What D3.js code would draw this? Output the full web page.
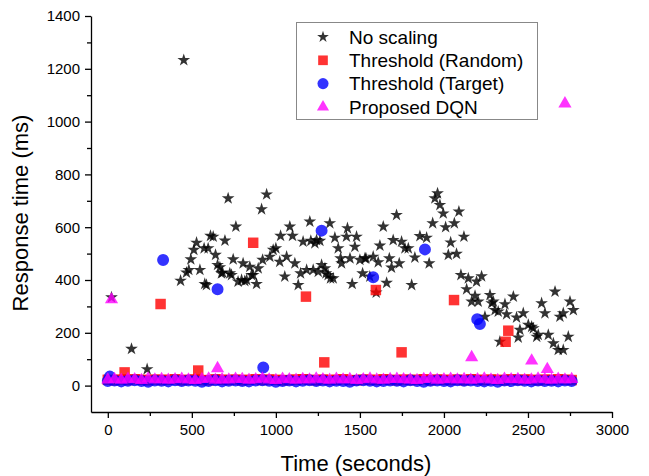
<!DOCTYPE html>
<html>
<head>
<meta charset="utf-8">
<script src="https://cdn.jsdelivr.net/npm/d3@7"></script>
<style>
  body { margin: 0; background: #fff; }
  text { font-family: "Liberation Sans", Arial, sans-serif; }
</style>
</head>
<body>
<svg id="chart" width="649" height="476"></svg>
<script>
// Series names (legend order)
var seriesNames = ["No scaling", "Threshold (Random)", "Threshold (Target)", "Proposed DQN"];

// No scaling: [time, response time]
var noScaling = [
  [22,334],[141,139],[234,62],[433,397],[452,1233],[468,428],[482,438],[494,478],[512,514],[528,541],
  [548,438],[573,520],[577,385],[587,381],[597,520],[611,567],[627,564],[641,495],[653,457],[667,448],
  [676,425],[683,428],[697,549],[716,709],[726,425],[736,419],[746,478],[762,602],[775,394],[796,400],
  [805,463],[815,396],[826,400],[845,450],[855,419],[865,419],[885,385],[895,444],[915,668],[921,476],
  [945,724],[964,488],[984,514],[1000,520],[1023,469],[1028,567],[1053,413],[1064,488],[1083,602],[1099,567],
  [1113,463],[1133,381],[1147,425],[1162,545],[1183,438],[1202,621],[1208,548],[1222,438],[1232,539],[1242,551],
  [1252,431],[1262,548],[1272,457],[1292,444],[1298,425],[1311,419],[1321,615],[1325,406],[1341,406],[1351,560],
  [1371,520],[1385,482],[1391,463],[1420,564],[1426,596],[1441,482],[1454,385],[1470,526],[1480,564],[1500,476],
  [1516,425],[1530,482],[1536,482],[1559,413],[1579,488],[1597,352],[1609,467],[1619,530],[1639,602],[1659,389],
  [1675,482],[1688,447],[1698,551],[1718,646],[1734,463],[1748,545],[1768,520],[1788,520],[1808,381],[1827,485],
  [1857,566],[1897,560],[1912,463],[1933,615],[1946,709],[1962,728],[1976,684],[1996,652],[2010,600],[2026,495],
  [2040,542],[2062,615],[2075,499],[2089,659],[2101,419],[2119,564],[2135,365],[2145,406],[2165,318],[2185,340],
  [2194,394],[2204,318],[2224,414],[2244,261],[2274,343],[2284,312],[2294,318],[2304,286],[2323,280],[2333,166],
  [2363,308],[2373,270],[2413,337],[2432,258],[2442,182],[2452,211],[2472,274],[2502,230],[2522,223],[2532,217],
  [2552,185],[2561,192],[2581,312],[2601,274],[2621,192],[2651,160],[2661,356],[2680,135],[2690,261],[2710,274],
  [2710,135],[2740,185],[2750,318],[2770,286]
];

// Threshold (Random) outliers above the baseline band
var randomHigh = [
  [100,50],[314,309],[538,57],[865,541],[1179,337],[1288,88],[1595,362],[1748,126],[2060,324],[2367,166],[2383,208]
];
// Threshold (Target) outliers
var targetHigh = [
  [12,34],[329,476],[653,365],[925,69],[1272,587],[1579,410],[1887,516],[2198,251],[2214,233]
];
// Proposed DQN outliers
var dqnHigh = [
  [22,326],[653,65],[2165,107],[2522,94],[2615,62],[2720,1068]
];

// Baseline band sample times (s)
var baseTimes = [0,40,80,120,160,200,240,280,320,360,400,440,480,520,560,600,640,680,720,760,
  800,840,880,920,960,1000,1040,1080,1120,1160,1200,1240,1280,1320,1360,1400,1440,1480,1520,1560,
  1600,1640,1680,1720,1760,1800,1840,1880,1920,1960,2000,2040,2080,2120,2160,2200,2240,2280,2320,2360,
  2400,2440,2480,2520,2560,2600,2640,2680,2720,2760];
var randomBase = [22,20,23,21,24,22,20,23,21,22,24,20,22,23,21,20,24,22,21,23,
  20,22,24,21,23,22,20,21,23,24,22,20,23,21,22,24,21,20,23,22,
  21,24,22,20,23,21,22,24,20,23,22,21,23,20,24,22,21,23,22,20,
  24,21,23,22,20,23,21,24,22,21];
var targetBase = [17,19,16,18,20,17,15,19,18,16,20,17,19,18,15,17,20,16,18,19,
  17,16,19,20,18,15,17,19,16,18,20,17,19,16,18,17,15,19,20,18,
  16,17,19,18,16,20,17,15,18,19,17,16,20,18,19,17,16,18,15,19,
  17,20,18,16,19,17,18,16,19,17];
var dqnBase = [22,24,21,25,23,20,26,22,24,21,23,25,22,20,24,26,21,23,22,25,
  24,21,23,26,22,20,25,23,21,24,22,26,23,21,25,22,24,20,23,26,
  22,21,24,25,23,22,20,24,26,21,23,25,22,24,21,23,26,22,20,25,
  23,24,21,22,26,23,21,25,22,24];

// Axis ticks
var xTicks = [0,500,1000,1500,2000,2500,3000];
var xMinor = [250,750,1250,1750,2250,2750];
var yTicks = [0,200,400,600,800,1000,1200,1400];
var yMinor = [100,300,500,700,900,1100,1300];

var svg = d3.select("#chart");
var x = d3.scaleLinear().domain([-100, 3000]).range([91, 612]);
var y = d3.scaleLinear().domain([-100, 1400]).range([412, 16]);

//Join times and values of the band
function band(vals){
  return baseTimes.map(function(t, i){ return [t, vals[i]]; });
}

//Symbol per series
var styles = [
  {sym: d3.symbolStar, size: 50, color: "#000000"},
  {sym: d3.symbolSquare, size: 110, color: "#ff0000"},
  {sym: d3.symbolCircle, size: 113, color: "#0000ff"},
  {sym: d3.symbolTriangle, size: 75, color: "#ff00ff"}
];

var allSeries = [
  noScaling,
  band(randomBase).concat(randomHigh),
  band(targetBase).concat(targetHigh),
  band(dqnBase).concat(dqnHigh)
];

// Axes
svg.append("g").attr("transform", "translate(0," + y(-100) + ")")
  .call(d3.axisBottom(x).tickValues(xTicks).tickSize(6).tickSizeOuter(0).tickPadding(6).tickFormat(d3.format("d")));
svg.append("g").attr("transform", "translate(0," + y(-100) + ")")
  .call(d3.axisBottom(x).tickValues(xMinor).tickSize(4).tickFormat(""))
  .select(".domain").remove();
svg.append("g").attr("transform", "translate(" + x(-100) + ",0)")
  .call(d3.axisLeft(y).tickValues(yTicks).tickSize(6).tickSizeOuter(0).tickPadding(5).tickFormat(d3.format("d")));
svg.append("g").attr("transform", "translate(" + x(-100) + ",0)")
  .call(d3.axisLeft(y).tickValues(yMinor).tickSize(4).tickFormat(""))
  .select(".domain").remove();

svg.selectAll(".domain, .tick line").attr("stroke", "#000").attr("stroke-width", 1.3);
svg.selectAll(".tick text").attr("font-size", 15).attr("fill", "#000")
  .style("font-family", "'Liberation Sans', Arial, sans-serif");

// Axis titles
svg.append("text")
  .attr("x", 356).attr("y", 471)
  .attr("text-anchor", "middle")
  .attr("font-size", 22)
  .text("Time (seconds)");
svg.append("text")
  .attr("transform", "translate(28,213) rotate(-90)")
  .attr("text-anchor", "middle")
  .attr("font-size", 22)
  .text("Response time (ms)");

// Points
allSeries.forEach(function(data, k){
  var st = styles[k];
  svg.append("g").selectAll("path")
    .data(data)
    .enter()
    .append("path")
    .attr("d", d3.symbol().type(st.sym).size(st.size))
    .attr("transform", function(d){ return "translate(" + x(d[0]) + "," + y(d[1]) + ")"; })
    .attr("fill", st.color)
    .attr("fill-opacity", 0.8);
});

// Legend
var legend = svg.append("g");
legend.append("rect")
  .attr("x", 296.5).attr("y", 22.5).attr("width", 241).attr("height", 97)
  .attr("fill", "#fff").attr("stroke", "#888").attr("stroke-width", 1);
var rows = legend.selectAll("g.row")
  .data(seriesNames)
  .enter()
  .append("g")
  .attr("class", "row")
  .attr("transform", function(d, i){ return "translate(0," + (37 + i * 23.3) + ")"; });
rows.append("path")
  .attr("d", function(d, i){ return d3.symbol().type(styles[i].sym).size(styles[i].size * 0.85)(); })
  .attr("transform", "translate(323,0)")
  .attr("fill", function(d, i){ return styles[i].color; })
  .attr("fill-opacity", 0.8);
rows.append("text")
  .attr("x", 349).attr("y", 0).attr("dy", "0.35em")
  .attr("font-size", 19)
  .text(function(d){ return d; });
</script>
</body>
</html>
